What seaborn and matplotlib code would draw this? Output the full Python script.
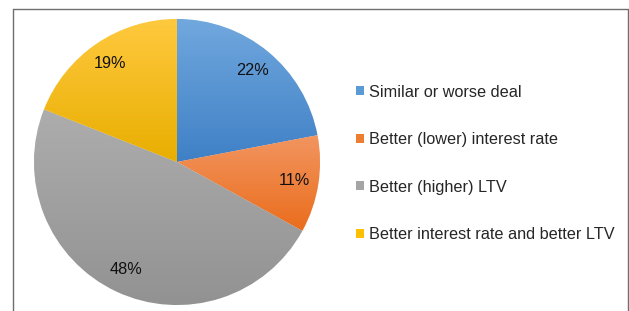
import numpy as np
import seaborn as sns
import matplotlib.pyplot as plt
from matplotlib.patches import Patch
from matplotlib.lines import Line2D
from matplotlib.colors import LinearSegmentedColormap

# data
labels = ['Similar or worse deal', 'Better (lower) interest rate',
          'Better (higher) LTV', 'Better interest rate and better LTV']
shares = [22, 11, 48, 19]
top_colors = ['#71a8de', '#f29560', '#adadad', '#ffc93f']
bottom_colors = ['#3f80c6', '#ea6d1c', '#929292', '#e8ae00']
base_colors = ['#5b9bd5', '#ed7d31', '#a5a5a5', '#ffc000']

sns.set_theme(style='white')
plt.rcParams['font.family'] = ['Liberation Sans', 'DejaVu Sans']

W, H = 629, 311
fig = plt.figure(figsize=(W / 100, H / 100), dpi=100)

# pie axes, centre ~ (177,162) px, radius ~143 px
cx, cy, r = 177, 162, 143
ax = fig.add_axes([(cx - r) / W, 1 - (cy + r) / H, 2 * r / W, 2 * r / H])
wedges, texts, autotexts = ax.pie(
    shares, colors=base_colors, startangle=90, counterclock=False,
    autopct='%1.0f%%', pctdistance=0.83, radius=1,
    wedgeprops=dict(edgecolor='white', linewidth=0.5),
    textprops=dict(fontsize=11.7, color='#111111'))
ax.set_aspect('auto')
ax.axis('off')

# vertical gradient inside each wedge
grad = np.linspace(0, 1, 256).reshape(-1, 1)
for w, c0, c1 in zip(wedges, top_colors, bottom_colors):
    ext = w.get_path().get_extents()
    cmap = LinearSegmentedColormap.from_list('g', [c1, c0])
    im = ax.imshow(grad, cmap=cmap, origin='lower', aspect='auto',
                   extent=[ext.x0, ext.x1, ext.y0, ext.y1], zorder=w.get_zorder())
    im.set_clip_path(w)
for t in autotexts:
    t.set_zorder(5)
ax.set_xlim(-1, 1)
ax.set_ylim(-1, 1)

# chart-area border (bottom edge cut off in the reference)
frame_kw = dict(color='#6e6e6e', linewidth=1.0, transform=fig.transFigure)
x0, x1, y0 = 13 / W, 627.5 / W, 1 - 9 / H
fig.add_artist(Line2D([x0, x1], [y0, y0], **frame_kw))
fig.add_artist(Line2D([x0, x0], [0, y0], **frame_kw))
fig.add_artist(Line2D([x1, x1], [0, y0], **frame_kw))

handles = [Patch(facecolor=c, edgecolor='none') for c in base_colors]
fig.legend(handles, labels, loc='upper left',
           bbox_to_anchor=(356 / W, 1 - 84.5 / H), bbox_transform=fig.transFigure,
           frameon=False, fontsize=11.7, handlelength=0.5, handleheight=0.5,
           handletextpad=0.3, labelspacing=2.0, borderpad=0, borderaxespad=0)

fig.savefig('out.png', dpi=100)
